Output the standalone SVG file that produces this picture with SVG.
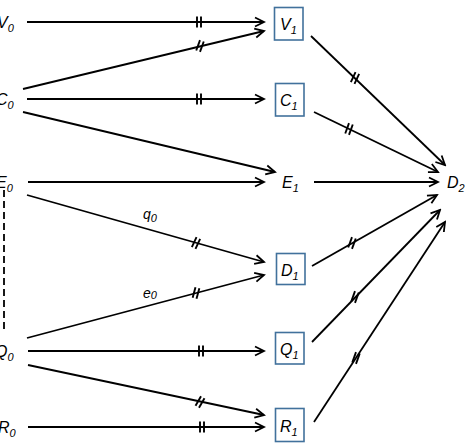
<svg xmlns="http://www.w3.org/2000/svg" width="466" height="446" viewBox="0 0 466 446">
<style>
.c{stroke:#000;stroke-width:1.8;fill:none}
.a{marker-end:url(#ah)}
.box{fill:#fff;stroke:#41719c;stroke-width:1.6}
.t{font-family:"Liberation Sans",Arial,sans-serif;font-style:italic;font-size:16px;fill:#000}
.s{font-size:11px}
.l{font-family:"Liberation Sans",Arial,sans-serif;font-style:italic;font-size:14px;fill:#000}
</style>
<defs>
<marker id="ah" viewBox="-11 -6 13 12" refX="0" refY="0" markerWidth="13" markerHeight="12" markerUnits="userSpaceOnUse" orient="auto">
<path d="M-9,-4.5 L0,0 L-9,4.5" fill="none" stroke="#000" stroke-width="1.8"/>
</marker>
<g id="tk" stroke="#000" stroke-width="1.9">
<line x1="-2" y1="-5.5" x2="-2" y2="5.5"/>
<line x1="2" y1="-5.5" x2="2" y2="5.5"/>
</g>
</defs>
<g id="connectors">
<line class="c a" x1="27" y1="22" x2="264" y2="22"/>
<line class="c a" x1="23" y1="89" x2="264" y2="31"/>
<line class="c a" x1="27" y1="99" x2="264" y2="99"/>
<line class="c a" x1="23" y1="112" x2="275" y2="172"/>
<line class="c a" x1="28" y1="182" x2="264" y2="182"/>
<line class="c a" x1="27" y1="195" x2="264" y2="262"/>
<line class="c a" x1="27" y1="338" x2="264" y2="275"/>
<line class="c a" x1="28" y1="351" x2="264" y2="351"/>
<line class="c a" x1="28" y1="365" x2="264" y2="415"/>
<line class="c a" x1="28" y1="427" x2="264" y2="427"/>
<line class="c a" x1="311" y1="36" x2="445" y2="165"/>
<line class="c a" x1="314" y1="112" x2="438" y2="172"/>
<line class="c a" x1="314" y1="182" x2="438" y2="182"/>
<line class="c a" x1="312" y1="266" x2="437" y2="195"/>
<line class="c a" x1="312" y1="342" x2="440" y2="210"/>
<line class="c a" x1="314" y1="422" x2="445" y2="222"/>
<line class="c" x1="4" y1="190" x2="4" y2="333" stroke-dasharray="7 4"/>
<use href="#tk" transform="translate(199,22)"/>
<use href="#tk" transform="translate(200,46) rotate(20)"/>
<use href="#tk" transform="translate(199,99)"/>
<use href="#tk" transform="translate(196,243) rotate(25)"/>
<use href="#tk" transform="translate(196,293) rotate(15)"/>
<use href="#tk" transform="translate(201,351)"/>
<use href="#tk" transform="translate(200,402) rotate(30)"/>
<use href="#tk" transform="translate(202,427)"/>
<use href="#tk" transform="translate(355,78) rotate(25)"/>
<use href="#tk" transform="translate(349,129) rotate(20)"/>
<use href="#tk" transform="translate(352,243) rotate(20)"/>
<use href="#tk" transform="translate(355,297) rotate(20)"/>
<use href="#tk" transform="translate(356,358) rotate(20)"/>
<text class="l" x="143" y="219">q<tspan class="s" dy="3">0</tspan></text>
<text class="l" x="143" y="298">e<tspan class="s" dy="1">0</tspan></text>
</g>
<g id="V0"><text class="t" x="-3" y="28">V<tspan class="s" dy="4">0</tspan></text></g>
<g id="C0"><text class="t" x="-4" y="105">C<tspan class="s" dy="4">0</tspan></text></g>
<g id="E0"><text class="t" x="-4" y="188">E<tspan class="s" dy="4">0</tspan></text></g>
<g id="Q0"><text class="t" x="-5" y="357">Q<tspan class="s" dy="4">0</tspan></text></g>
<g id="R0"><text class="t" x="-2" y="433">R<tspan class="s" dy="4">0</tspan></text></g>
<g id="V1"><rect class="box" x="274.5" y="7.5" width="28.5" height="32.5"/><text class="t" x="280" y="30">V<tspan class="s" dy="4">1</tspan></text></g>
<g id="C1"><rect class="box" x="275.5" y="83.5" width="28.5" height="32.5"/><text class="t" x="280" y="106">C<tspan class="s" dy="4">1</tspan></text></g>
<g id="E1"><text class="t" x="282" y="188">E<tspan class="s" dy="4">1</tspan></text></g>
<g id="D1"><rect class="box" x="276.5" y="253.5" width="28.5" height="31"/><text class="t" x="281" y="276">D<tspan class="s" dy="4">1</tspan></text></g>
<g id="Q1"><rect class="box" x="275.5" y="332.5" width="28.5" height="31.5"/><text class="t" x="280" y="355">Q<tspan class="s" dy="4">1</tspan></text></g>
<g id="R1"><rect class="box" x="275.5" y="408.5" width="28.5" height="33"/><text class="t" x="280" y="432">R<tspan class="s" dy="4">1</tspan></text></g>
<g id="D2"><text class="t" x="447" y="188">D<tspan class="s" dy="4">2</tspan></text></g>
</svg>
